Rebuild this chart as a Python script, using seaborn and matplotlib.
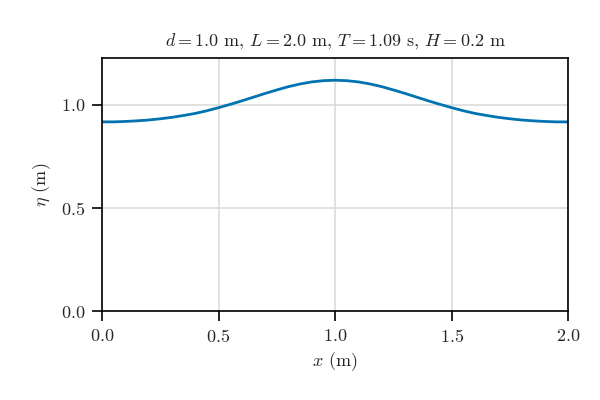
import matplotlib
matplotlib.use("Agg")
import matplotlib.pyplot as plt
import pandas as pd
import seaborn as sns

# surface elevation
x_m = [0.00, 0.05, 0.10, 0.15, 0.20, 0.25, 0.30, 0.35, 0.40, 0.45, 0.50,
       0.55, 0.60, 0.65, 0.70, 0.75, 0.80, 0.85, 0.90, 0.95, 1.00,
       1.05, 1.10, 1.15, 1.20, 1.25, 1.30, 1.35, 1.40, 1.45, 1.50,
       1.55, 1.60, 1.65, 1.70, 1.75, 1.80, 1.85, 1.90, 1.95, 2.00]
eta_m = [0.918, 0.918, 0.920, 0.923, 0.927, 0.933, 0.940, 0.949, 0.959, 0.972, 0.987,
         1.003, 1.020, 1.038, 1.056, 1.073, 1.089, 1.102, 1.112, 1.118, 1.120,
         1.118, 1.112, 1.102, 1.089, 1.073, 1.056, 1.038, 1.020, 1.003, 0.987,
         0.972, 0.959, 0.949, 0.940, 0.933, 0.927, 0.923, 0.920, 0.918, 0.918]
x_ticks = [0.0, 0.5, 1.0, 1.5, 2.0]
y_ticks = [0.0, 0.5, 1.0]

sns.set_theme(style="ticks")
plt.rcParams["font.family"] = "serif"
plt.rcParams["font.serif"] = ["cmr10"]
plt.rcParams["mathtext.fontset"] = "cm"
plt.rcParams["axes.formatter.use_mathtext"] = True
plt.rcParams["axes.unicode_minus"] = False

df = pd.DataFrame({"x": x_m, "eta": eta_m})

fig = plt.figure(figsize=(6, 4), dpi=100)
ax = fig.add_axes([0.17, 0.2225, 0.777, 0.6325])
sns.lineplot(data=df, x="x", y="eta", color="#0173b2", linewidth=2, ax=ax)

ax.set_xlim(0, 2)
ax.set_ylim(0, 1.228)
ax.set_xticks(x_ticks)
ax.set_yticks(y_ticks)
ax.grid(True, color="#d9d9d9", linewidth=1.1)
ax.set_axisbelow(True)
for s in ax.spines.values():
    s.set_color("black")
    s.set_linewidth(1.2)
ax.tick_params(axis="both", labelsize=13, length=7, width=1.2, color="black",
               direction="out", pad=5)

ax.set_xlabel(r"$x$ (m)", fontsize=13, labelpad=4)
ax.set_ylabel(r"$\eta$ (m)", fontsize=13, labelpad=6)
ax.set_title(r"$d = 1.0$ m, $L = 2.0$ m, $T = 1.09$ s, $H = 0.2$ m", fontsize=13, pad=9)

fig.savefig("out.png", dpi=100)
